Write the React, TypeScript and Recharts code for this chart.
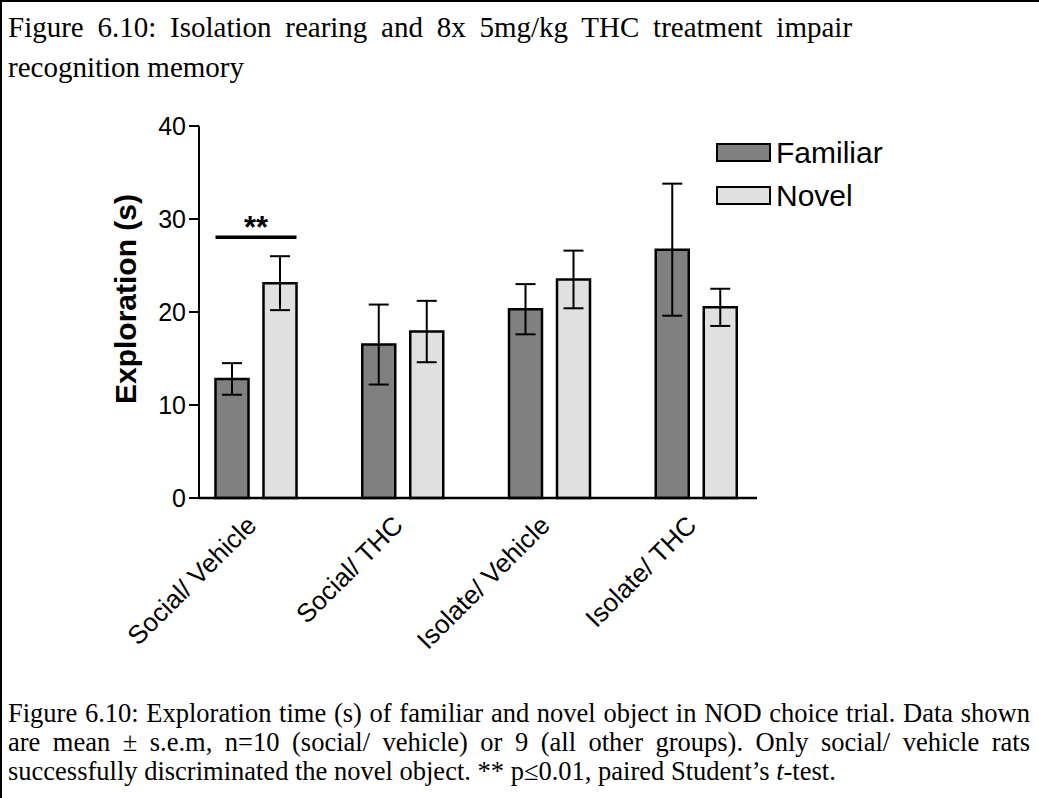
import React from "react";
import {
  BarChart,
  Bar,
  XAxis,
  YAxis,
  ErrorBar,
  Legend,
  LabelList,
} from "recharts";

const groups = ["Social/ Vehicle", "Social/ THC", "Isolate/ Vehicle", "Isolate/ THC"];
const familiar = [12.8, 16.5, 20.3, 26.7];
const familiarSem = [1.7, 4.3, 2.7, 7.1];
const novel = [23.1, 17.9, 23.5, 20.5];
const novelSem = [2.9, 3.3, 3.1, 2.0];
const significance = ["**", "", "", ""];
const sigLevel = 28.05;
const yTicks = [0, 10, 20, 30, 40];

const data = groups.map((g, i) => ({
  group: g,
  familiar: familiar[i],
  familiarSem: familiarSem[i],
  novel: novel[i],
  novelSem: novelSem[i],
  sig: significance[i],
}));

const SANS = '"Liberation Sans", Arial, sans-serif';
const SERIF = '"Liberation Serif", "Times New Roman", serif';
const BAR_SIZE = 33;
const BAR_GAP = 15;

function CategoryTick({ x, y, payload }: any) {
  const ax = x + 2;
  return (
    <text
      x={ax}
      y={y}
      transform={`rotate(-45 ${ax} ${y})`}
      textAnchor="end"
      fontSize={26}
      fontFamily={SANS}
      fill="#000"
    >
      {payload.value}
    </text>
  );
}

function ValueTick({ x, y, payload }: any) {
  return (
    <text
      x={x}
      y={y}
      textAnchor="end"
      dominantBaseline="central"
      fontSize={25}
      fontFamily={SANS}
      fill="#000"
    >
      {payload.value}
    </text>
  );
}

// bracket + stars drawn from the novel bar's own geometry
function SigLabel(props: any) {
  const { x, y, width, height, value, index } = props;
  if (!value) return null;
  const base = Number(y) + Number(height);
  const perUnit = Number(height) / novel[index];
  const lineY = base - sigLevel * perUnit;
  const left = Number(x) - BAR_GAP - Number(width);
  const right = Number(x) + Number(width);
  return (
    <g>
      <line x1={left} y1={lineY} x2={right} y2={lineY} stroke="#000" strokeWidth={3.5} />
      <text
        x={(left + right) / 2}
        y={lineY + 1}
        textAnchor="middle"
        fontSize={31}
        fontWeight="bold"
        fontFamily={SANS}
        fill="#000"
      >
        {value}
      </text>
    </g>
  );
}

function LegendBox({ payload }: any) {
  return (
    <div style={{ fontFamily: SANS }}>
      {(payload || []).map((p: any) => (
        <div key={p.value} style={{ display: "flex", alignItems: "center", height: 43 }}>
          <div
            style={{
              width: 55,
              height: 19,
              background: p.color,
              border: "2px solid #000",
              boxSizing: "border-box",
            }}
          />
          <span style={{ fontSize: 30, marginLeft: 5, color: "#000", lineHeight: "30px" }}>
            {p.value}
          </span>
        </div>
      ))}
    </div>
  );
}

function YLabel({ viewBox }: any) {
  const cx = viewBox.x + 35;
  const cy = viewBox.y + viewBox.height / 2 - 13;
  return (
    <text
      x={cx}
      y={cy}
      transform={`rotate(-90 ${cx} ${cy})`}
      textAnchor="middle"
      dominantBaseline="central"
      fontSize={30}
      fontWeight="bold"
      fontFamily={SANS}
      fill="#000"
    >
      Exploration (s)
    </text>
  );
}

export default function App() {
  return (
    <div
      style={{
        position: "absolute",
        left: 0,
        top: 0,
        width: 1039,
        height: 798,
        background: "#fff",
        overflow: "hidden",
      }}
    >
      {/* frame lines */}
      <div style={{ position: "absolute", left: 0, top: 0, width: 1039, height: 2, background: "#000" }} />
      <div style={{ position: "absolute", left: 0, top: 0, width: 2, height: 798, background: "#000" }} />

      <div
        style={{
          position: "absolute",
          left: 8,
          top: 7,
          fontFamily: SERIF,
          fontSize: 29,
          lineHeight: "40px",
          color: "#000",
          whiteSpace: "nowrap",
        }}
      >
        <div style={{ wordSpacing: 6.5 }}>
          Figure 6.10: Isolation rearing and 8x 5mg/kg THC treatment impair
        </div>
        <div>recognition memory</div>
      </div>

      <div style={{ position: "absolute", left: 0, top: 0 }}>
        <BarChart
          width={1039}
          height={798}
          data={data}
          margin={{ top: 126, right: 282, bottom: 150, left: 90 }}
          barSize={BAR_SIZE}
          barGap={BAR_GAP}
        >
          <XAxis
            dataKey="group"
            height={150}
            padding={{ left: -16.5, right: -12.5 }}
            axisLine={{ stroke: "#000", strokeWidth: 2.5 }}
            tickLine={false}
            tickSize={0}
            tickMargin={29}
            tick={<CategoryTick />}
            interval={0}
          />
          <YAxis
            width={109}
            domain={[0, 40]}
            ticks={yTicks}
            tickSize={10}
            tickMargin={3}
            axisLine={{ stroke: "#000", strokeWidth: 2 }}
            tickLine={{ stroke: "#000", strokeWidth: 2 }}
            tick={<ValueTick />}
            label={<YLabel />}
          />
          <Legend
            layout="vertical"
            align="center"
            verticalAlign="middle"
            content={<LegendBox />}
            wrapperStyle={{ left: 716, top: 131, width: 220, height: 90 }}
          />
          <Bar
            dataKey="familiar"
            name="Familiar"
            fill="#808080"
            stroke="#000"
            strokeWidth={2.5}
            isAnimationActive={false}
          >
            <ErrorBar dataKey="familiarSem" width={10} stroke="#000" strokeWidth={2} direction="y" />
          </Bar>
          <Bar
            dataKey="novel"
            name="Novel"
            fill="#e0e0e0"
            stroke="#000"
            strokeWidth={2.5}
            isAnimationActive={false}
          >
            <ErrorBar dataKey="novelSem" width={10} stroke="#000" strokeWidth={2} direction="y" />
            <LabelList dataKey="sig" content={<SigLabel />} />
          </Bar>
        </BarChart>
      </div>

      <div
        style={{
          position: "absolute",
          left: 8,
          top: 699,
          width: 1022,
          fontFamily: SERIF,
          fontSize: 26.5,
          lineHeight: "29px",
          color: "#000",
        }}
      >
        <div style={{ textAlign: "justify", textAlignLast: "justify", whiteSpace: "nowrap" }}>
          Figure 6.10: Exploration time (s) of familiar and novel object in NOD choice trial. Data shown
        </div>
        <div style={{ textAlign: "justify", textAlignLast: "justify", whiteSpace: "nowrap" }}>
          are mean ± s.e.m, n=10 (social/ vehicle) or 9 (all other groups). Only social/ vehicle rats
        </div>
        <div style={{ whiteSpace: "nowrap" }}>
          successfully discriminated the novel object. ** p≤0.01, paired Student’s <i>t</i>-test.
        </div>
      </div>
    </div>
  );
}
